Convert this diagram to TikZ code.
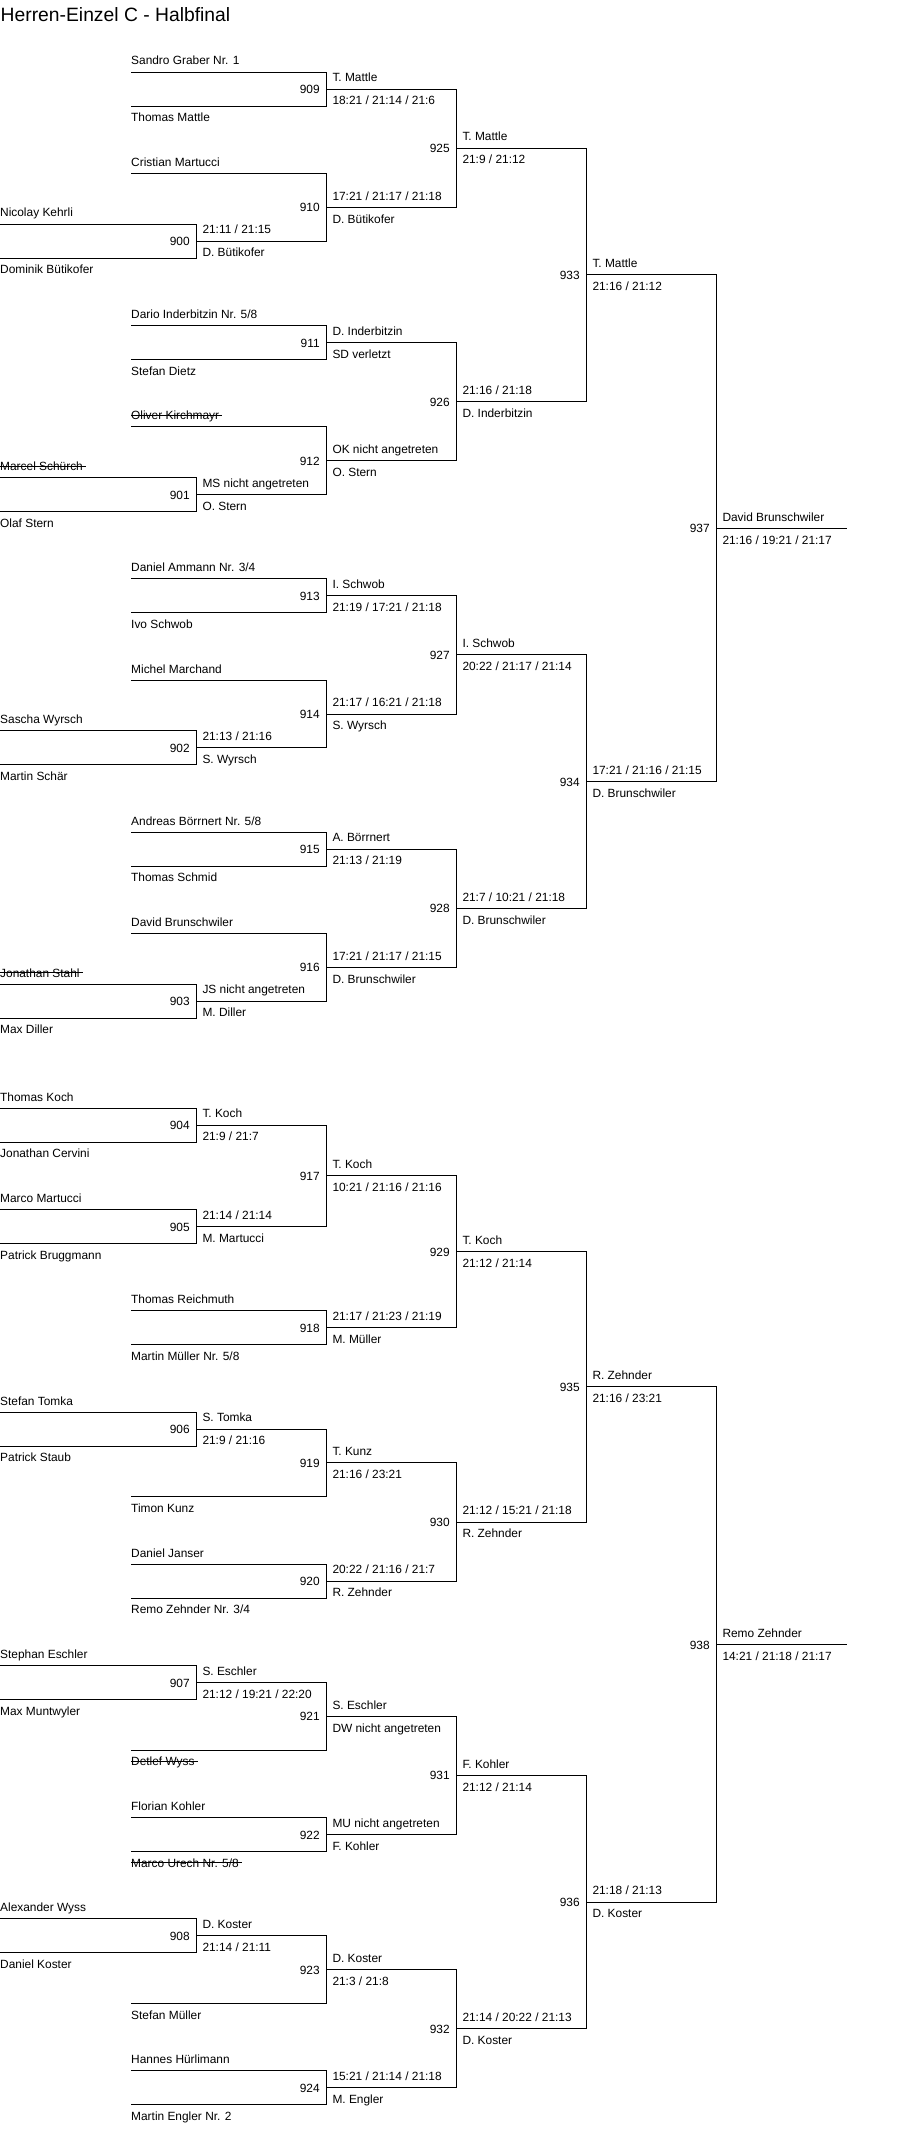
\documentclass[tikz,border=0pt]{standalone}
\usepackage{fontspec}
\setmainfont{Liberation Sans}
\newcommand\strk[1]{\sbox0{#1}\rlap{\rule[3.8pt]{\dimexpr\wd0+3pt\relax}{0.9pt}}\usebox0}
\newcommand\rowT[1]{72.3+16.889*(#1)}
\newcommand\rowB[1]{1108.3+16.889*(#1)}
\def\pxA{0}
\def\pxB{131}
\def\pxC{196.7}
\def\pxD{326.7}
\def\pxE{456.7}
\def\pxF{586.7}
\def\pxG{716.7}
\def\pxH{846.7}
\newcommand\bracket[3]{\draw[br] (#2) -- (#2 -| #1) -- (#3 -| #1) -- (#3);}
\newcommand\mlab[3]{\node[num] (n#1) at (m#1) {#1};\node[wa] (a#1) at (m#1) {#2};\node[wb] (b#1) at (m#1) {#3};}
\newcommand\plab[3]{\node[namea] (q#1a) at (p#1a) {#2};\node[nameb] (q#1b) at (p#1b) {#3};}
\tikzset{
 br/.style={draw=black, line width=1pt},
 lab/.style={inner sep=0pt, outer sep=0pt, font=\fontsize{11.9}{14}\selectfont, text=black},
 namea/.style={lab, anchor=base west, xshift=0.2pt, yshift=7.3pt},
 nameb/.style={lab, anchor=base west, xshift=0.2pt, yshift=-15.7pt},
 wa/.style={lab, anchor=base west, xshift=5.8pt, yshift=7.3pt},
 wb/.style={lab, anchor=base west, xshift=5.8pt, yshift=-15.7pt},
 num/.style={lab, anchor=base east, xshift=-7pt, yshift=-4.5pt},
}
\begin{document}
\begin{tikzpicture}[x=1pt,y=-1pt]
\fill[white] (0,0) rectangle (913,2132);
\useasboundingbox (0,0) rectangle (913,2132);
\node[inner sep=0pt, anchor=base west, font=\fontsize{19.3}{22}\selectfont] (title) at (0.5,22) {Herren-Einzel C - Halbfinal};

% ---------- top half ----------
\coordinate (p909a) at (\pxB,{\rowT{0}});
\coordinate (p909b) at (\pxB,{\rowT{2}});
\coordinate (m909) at (\pxD,{\rowT{1}});
\coordinate (p900a) at (\pxA,{\rowT{9}});
\coordinate (p900b) at (\pxA,{\rowT{11}});
\coordinate (m900) at (\pxC,{\rowT{10}});
\coordinate (p910a) at (\pxB,{\rowT{6}});
\coordinate (m910) at (\pxD,{\rowT{8}});
\coordinate (m925) at (\pxE,{\rowT{4.5}});
\coordinate (p911a) at (\pxB,{\rowT{15}});
\coordinate (p911b) at (\pxB,{\rowT{17}});
\coordinate (m911) at (\pxD,{\rowT{16}});
\coordinate (p901a) at (\pxA,{\rowT{24}});
\coordinate (p901b) at (\pxA,{\rowT{26}});
\coordinate (m901) at (\pxC,{\rowT{25}});
\coordinate (p912a) at (\pxB,{\rowT{21}});
\coordinate (m912) at (\pxD,{\rowT{23}});
\coordinate (m926) at (\pxE,{\rowT{19.5}});
\coordinate (m933) at (\pxF,{\rowT{12}});
\coordinate (p913a) at (\pxB,{\rowT{30}});
\coordinate (p913b) at (\pxB,{\rowT{32}});
\coordinate (m913) at (\pxD,{\rowT{31}});
\coordinate (p902a) at (\pxA,{\rowT{39}});
\coordinate (p902b) at (\pxA,{\rowT{41}});
\coordinate (m902) at (\pxC,{\rowT{40}});
\coordinate (p914a) at (\pxB,{\rowT{36}});
\coordinate (m914) at (\pxD,{\rowT{38}});
\coordinate (m927) at (\pxE,{\rowT{34.5}});
\coordinate (p915a) at (\pxB,{\rowT{45}});
\coordinate (p915b) at (\pxB,{\rowT{47}});
\coordinate (m915) at (\pxD,{\rowT{46}});
\coordinate (p903a) at (\pxA,{\rowT{54}});
\coordinate (p903b) at (\pxA,{\rowT{56}});
\coordinate (m903) at (\pxC,{\rowT{55}});
\coordinate (p916a) at (\pxB,{\rowT{51}});
\coordinate (m916) at (\pxD,{\rowT{53}});
\coordinate (m928) at (\pxE,{\rowT{49.5}});
\coordinate (m934) at (\pxF,{\rowT{42}});
\coordinate (m937) at (\pxG,{\rowT{27}});
\coordinate (w937) at (\pxH,{\rowT{27}});

% ---------- bottom half ----------
\coordinate (p904a) at (\pxA,{\rowB{0}});
\coordinate (p904b) at (\pxA,{\rowB{2}});
\coordinate (m904) at (\pxC,{\rowB{1}});
\coordinate (p905a) at (\pxA,{\rowB{6}});
\coordinate (p905b) at (\pxA,{\rowB{8}});
\coordinate (m905) at (\pxC,{\rowB{7}});
\coordinate (m917) at (\pxD,{\rowB{4}});
\coordinate (p918a) at (\pxB,{\rowB{12}});
\coordinate (p918b) at (\pxB,{\rowB{14}});
\coordinate (m918) at (\pxD,{\rowB{13}});
\coordinate (m929) at (\pxE,{\rowB{8.5}});
\coordinate (p906a) at (\pxA,{\rowB{18}});
\coordinate (p906b) at (\pxA,{\rowB{20}});
\coordinate (m906) at (\pxC,{\rowB{19}});
\coordinate (p919b) at (\pxB,{\rowB{23}});
\coordinate (m919) at (\pxD,{\rowB{21}});
\coordinate (p920a) at (\pxB,{\rowB{27}});
\coordinate (p920b) at (\pxB,{\rowB{29}});
\coordinate (m920) at (\pxD,{\rowB{28}});
\coordinate (m930) at (\pxE,{\rowB{24.5}});
\coordinate (m935) at (\pxF,{\rowB{16.5}});
\coordinate (p907a) at (\pxA,{\rowB{33}});
\coordinate (p907b) at (\pxA,{\rowB{35}});
\coordinate (m907) at (\pxC,{\rowB{34}});
\coordinate (p921b) at (\pxB,{\rowB{38}});
\coordinate (m921) at (\pxD,{\rowB{36}});
\coordinate (p922a) at (\pxB,{\rowB{42}});
\coordinate (p922b) at (\pxB,{\rowB{44}});
\coordinate (m922) at (\pxD,{\rowB{43}});
\coordinate (m931) at (\pxE,{\rowB{39.5}});
\coordinate (p908a) at (\pxA,{\rowB{48}});
\coordinate (p908b) at (\pxA,{\rowB{50}});
\coordinate (m908) at (\pxC,{\rowB{49}});
\coordinate (p923b) at (\pxB,{\rowB{53}});
\coordinate (m923) at (\pxD,{\rowB{51}});
\coordinate (p924a) at (\pxB,{\rowB{57}});
\coordinate (p924b) at (\pxB,{\rowB{59}});
\coordinate (m924) at (\pxD,{\rowB{58}});
\coordinate (m932) at (\pxE,{\rowB{54.5}});
\coordinate (m936) at (\pxF,{\rowB{47}});
\coordinate (m938) at (\pxG,{\rowB{31.75}});
\coordinate (w938) at (\pxH,{\rowB{31.75}});

% ---------- connectors ----------
\bracket{m909}{p909a}{p909b}
\bracket{m900}{p900a}{p900b}
\bracket{m910}{p910a}{m900}
\bracket{m925}{m909}{m910}
\bracket{m911}{p911a}{p911b}
\bracket{m901}{p901a}{p901b}
\bracket{m912}{p912a}{m901}
\bracket{m926}{m911}{m912}
\bracket{m933}{m925}{m926}
\bracket{m913}{p913a}{p913b}
\bracket{m902}{p902a}{p902b}
\bracket{m914}{p914a}{m902}
\bracket{m927}{m913}{m914}
\bracket{m915}{p915a}{p915b}
\bracket{m903}{p903a}{p903b}
\bracket{m916}{p916a}{m903}
\bracket{m928}{m915}{m916}
\bracket{m934}{m927}{m928}
\bracket{m937}{m933}{m934}
\draw[br] (m937) -- (w937);

\bracket{m904}{p904a}{p904b}
\bracket{m905}{p905a}{p905b}
\bracket{m917}{m904}{m905}
\bracket{m918}{p918a}{p918b}
\bracket{m929}{m917}{m918}
\bracket{m906}{p906a}{p906b}
\bracket{m919}{m906}{p919b}
\bracket{m920}{p920a}{p920b}
\bracket{m930}{m919}{m920}
\bracket{m935}{m929}{m930}
\bracket{m907}{p907a}{p907b}
\bracket{m921}{m907}{p921b}
\bracket{m922}{p922a}{p922b}
\bracket{m931}{m921}{m922}
\bracket{m908}{p908a}{p908b}
\bracket{m923}{m908}{p923b}
\bracket{m924}{p924a}{p924b}
\bracket{m932}{m923}{m924}
\bracket{m936}{m931}{m932}
\bracket{m938}{m935}{m936}
\draw[br] (m938) -- (w938);

% ---------- player names ----------
\plab{909}{Sandro Graber Nr. 1}{Thomas Mattle}
\plab{900}{Nicolay Kehrli}{Dominik Bütikofer}
\node[namea] (q910a) at (p910a) {Cristian Martucci};
\plab{911}{Dario Inderbitzin Nr. 5/8}{Stefan Dietz}
\plab{901}{\strk{Marcel Schürch}}{Olaf Stern}
\node[namea] (q912a) at (p912a) {\strk{Oliver Kirchmayr}};
\plab{913}{Daniel Ammann Nr. 3/4}{Ivo Schwob}
\plab{902}{Sascha Wyrsch}{Martin Schär}
\node[namea] (q914a) at (p914a) {Michel Marchand};
\plab{915}{Andreas Börrnert Nr. 5/8}{Thomas Schmid}
\plab{903}{\strk{Jonathan Stahl}}{Max Diller}
\node[namea] (q916a) at (p916a) {David Brunschwiler};

\plab{904}{Thomas Koch}{Jonathan Cervini}
\plab{905}{Marco Martucci}{Patrick Bruggmann}
\plab{918}{Thomas Reichmuth}{Martin Müller Nr. 5/8}
\plab{906}{Stefan Tomka}{Patrick Staub}
\node[nameb] (q919b) at (p919b) {Timon Kunz};
\plab{920}{Daniel Janser}{Remo Zehnder Nr. 3/4}
\plab{907}{Stephan Eschler}{Max Muntwyler}
\node[nameb] (q921b) at (p921b) {\strk{Detlef Wyss}};
\plab{922}{Florian Kohler}{\strk{Marco Urech Nr. 5/8}}
\plab{908}{Alexander Wyss}{Daniel Koster}
\node[nameb] (q923b) at (p923b) {Stefan Müller};
\plab{924}{Hannes Hürlimann}{Martin Engler Nr. 2}

% ---------- match labels ----------
\mlab{909}{T. Mattle}{18:21 / 21:14 / 21:6}
\mlab{900}{21:11 / 21:15}{D. Bütikofer}
\mlab{910}{17:21 / 21:17 / 21:18}{D. Bütikofer}
\mlab{925}{T. Mattle}{21:9 / 21:12}
\mlab{911}{D. Inderbitzin}{SD verletzt}
\mlab{901}{MS nicht angetreten}{O. Stern}
\mlab{912}{OK nicht angetreten}{O. Stern}
\mlab{926}{21:16 / 21:18}{D. Inderbitzin}
\mlab{933}{T. Mattle}{21:16 / 21:12}
\mlab{913}{I. Schwob}{21:19 / 17:21 / 21:18}
\mlab{902}{21:13 / 21:16}{S. Wyrsch}
\mlab{914}{21:17 / 16:21 / 21:18}{S. Wyrsch}
\mlab{927}{I. Schwob}{20:22 / 21:17 / 21:14}
\mlab{915}{A. Börrnert}{21:13 / 21:19}
\mlab{903}{JS nicht angetreten}{M. Diller}
\mlab{916}{17:21 / 21:17 / 21:15}{D. Brunschwiler}
\mlab{928}{21:7 / 10:21 / 21:18}{D. Brunschwiler}
\mlab{934}{17:21 / 21:16 / 21:15}{D. Brunschwiler}
\mlab{937}{David Brunschwiler}{21:16 / 19:21 / 21:17}

\mlab{904}{T. Koch}{21:9 / 21:7}
\mlab{905}{21:14 / 21:14}{M. Martucci}
\mlab{917}{T. Koch}{10:21 / 21:16 / 21:16}
\mlab{918}{21:17 / 21:23 / 21:19}{M. Müller}
\mlab{929}{T. Koch}{21:12 / 21:14}
\mlab{906}{S. Tomka}{21:9 / 21:16}
\mlab{919}{T. Kunz}{21:16 / 23:21}
\mlab{920}{20:22 / 21:16 / 21:7}{R. Zehnder}
\mlab{930}{21:12 / 15:21 / 21:18}{R. Zehnder}
\mlab{935}{R. Zehnder}{21:16 / 23:21}
\mlab{907}{S. Eschler}{21:12 / 19:21 / 22:20}
\mlab{921}{S. Eschler}{DW nicht angetreten}
\mlab{922}{MU nicht angetreten}{F. Kohler}
\mlab{931}{F. Kohler}{21:12 / 21:14}
\mlab{908}{D. Koster}{21:14 / 21:11}
\mlab{923}{D. Koster}{21:3 / 21:8}
\mlab{924}{15:21 / 21:14 / 21:18}{M. Engler}
\mlab{932}{21:14 / 20:22 / 21:13}{D. Koster}
\mlab{936}{21:18 / 21:13}{D. Koster}
\mlab{938}{Remo Zehnder}{14:21 / 21:18 / 21:17}
\end{tikzpicture}
\end{document}
